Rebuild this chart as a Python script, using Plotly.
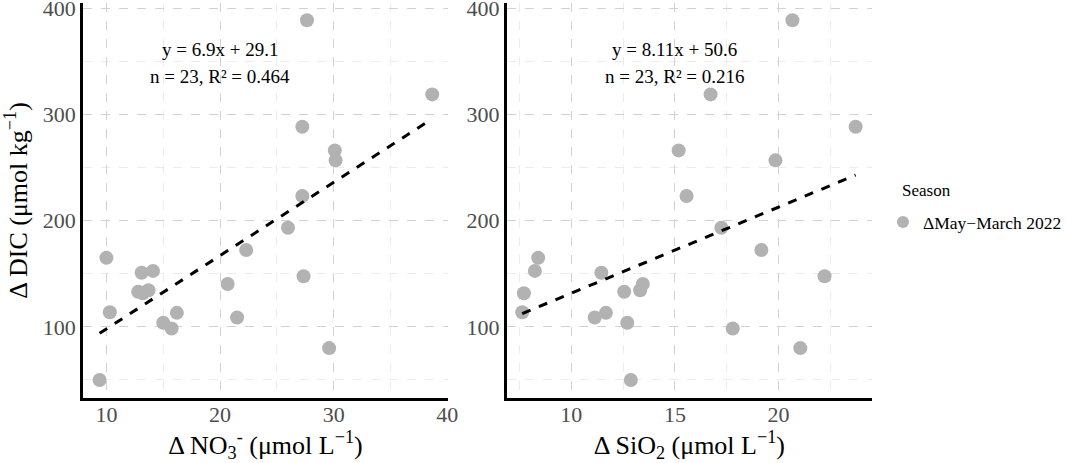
import plotly.graph_objects as go
from plotly.subplots import make_subplots

# ΔDIC (umol/kg) and the two drivers, one value per station
dic = [50, 165, 113.8, 151, 152.7, 133, 131.7, 134.5, 103.8, 98.4, 113.2, 140.4,
       108.8, 172.4, 193.4, 223.2, 288.4, 388.8, 147.7, 266.2, 256.8, 80, 318.9]
no3 = [9.4, 10.0, 10.3, 13.1, 14.1, 12.8, 13.2, 13.7, 15.0, 15.74, 16.2, 20.67,
       21.5, 22.3, 25.98, 27.24, 27.24, 27.65, 27.35, 30.1, 30.17, 29.6, 38.67]
sio2 = [12.87, 8.4, 7.63, 11.45, 8.24, 12.55, 7.71, 13.32, 12.7, 17.79, 11.67, 13.45,
        11.13, 19.17, 17.24, 15.56, 23.72, 20.67, 22.22, 15.18, 19.85, 21.05, 16.72]

# fitted lines as printed on the chart
fit_no3 = (6.9, 29.1)
fit_sio2 = (8.11, 50.6)
lab_no3 = ["y = 6.9x + 29.1", "n = 23, R² = 0.464"]
lab_sio2 = ["y = 8.11x + 50.6", "n = 23, R² = 0.216"]

serif = "Liberation Serif"
pt_col = "rgb(178,178,178)"

fig = make_subplots(rows=1, cols=2, horizontal_spacing=0.07)

for col, xs, fit in [(1, no3, fit_no3), (2, sio2, fit_sio2)]:
    fig.add_trace(go.Scatter(x=xs, y=dic, mode="markers",
                             marker=dict(size=14, color=pt_col),
                             name="ΔMay−March 2022", showlegend=(col == 1)),
                  row=1, col=col)
    x0, x1 = min(xs), max(xs)
    fig.add_trace(go.Scatter(x=[x0, x1], y=[fit[0] * x0 + fit[1], fit[0] * x1 + fit[1]],
                             mode="lines", line=dict(color="black", width=3, dash="dash"),
                             showlegend=False, hoverinfo="skip"),
                  row=1, col=col)

# equation labels
for col, xc, labs in [(1, 20, lab_no3), (2, 15, lab_sio2)]:
    xref = "x" if col == 1 else "x2"
    yref = "y" if col == 1 else "y2"
    fig.add_annotation(x=xc, y=361, xref=xref, yref=yref, text=labs[0], showarrow=False,
                       font=dict(family=serif, size=19, color="black"))
    fig.add_annotation(x=xc, y=336, xref=xref, yref=yref, text=labs[1], showarrow=False,
                       font=dict(family=serif, size=19, color="black"))

# legend title drawn separately so the gap to the item matches
pw, ph = 1066 - 83 - 194, 463 - 3 - 65
fig.add_annotation(x=(900 - 83) / pw, y=1 - (190 - 3) / ph, xref="paper", yref="paper",
                   text="Season", showarrow=False, xanchor="left", yanchor="middle",
                   font=dict(family=serif, size=17, color="black"))

axis_common = dict(showline=True, linecolor="black", linewidth=2.5,
                   showgrid=True, gridcolor="rgb(210,210,210)", griddash="dash", gridwidth=1,
                   zeroline=False, ticks="", automargin=False, ticklabeloverflow="allow",
                   tickfont=dict(family=serif, size=22, color="rgb(77,77,77)"))

fig.update_xaxes(**axis_common)
fig.update_yaxes(**axis_common)

fig.update_xaxes(ticklabelstandoff=-5)

fig.update_xaxes(range=[7.94, 40.06], dtick=10, domain=[0, 0.4626],
                 minor=dict(dtick=5, showgrid=True, gridcolor="rgb(236,236,236)", ticks=""),
                 title=dict(text="Δ NO<sub>3</sub><sup>-</sup> (μmol L<sup>−1</sup>)",
                            font=dict(family=serif, size=26, color="black")),
                 row=1, col=1)
fig.update_xaxes(range=[6.88, 24.51], dtick=5, domain=[0.537, 1],
                 minor=dict(dtick=2.5, showgrid=True, gridcolor="rgb(236,236,236)", ticks=""),
                 title=dict(text="Δ SiO<sub>2</sub> (μmol L<sup>−1</sup>)",
                            font=dict(family=serif, size=26, color="black")),
                 row=1, col=2)
fig.update_yaxes(range=[33, 405], dtick=100,
                 minor=dict(dtick=50, showgrid=True, gridcolor="rgb(236,236,236)", ticks=""))
fig.update_yaxes(title=dict(text="Δ DIC (μmol kg<sup>−1</sup>)",
                            font=dict(family=serif, size=26, color="black")),
                 row=1, col=1)

fig.update_layout(
    width=1066, height=463,
    margin=dict(l=83, r=194, t=3, b=65, autoexpand=False),
    plot_bgcolor="white", paper_bgcolor="white",
    font=dict(family=serif),
    legend=dict(x=1.0139, y=0.445, xanchor="left", yanchor="middle",
                font=dict(family=serif, size=17.5, color="black"), itemsizing="constant"),
)

# drop the browser's default body margin so the figure sits at the window corner
fig.write_html("out.html", config={"displayModeBar": False},
               post_script="document.body.style.margin='0';")
